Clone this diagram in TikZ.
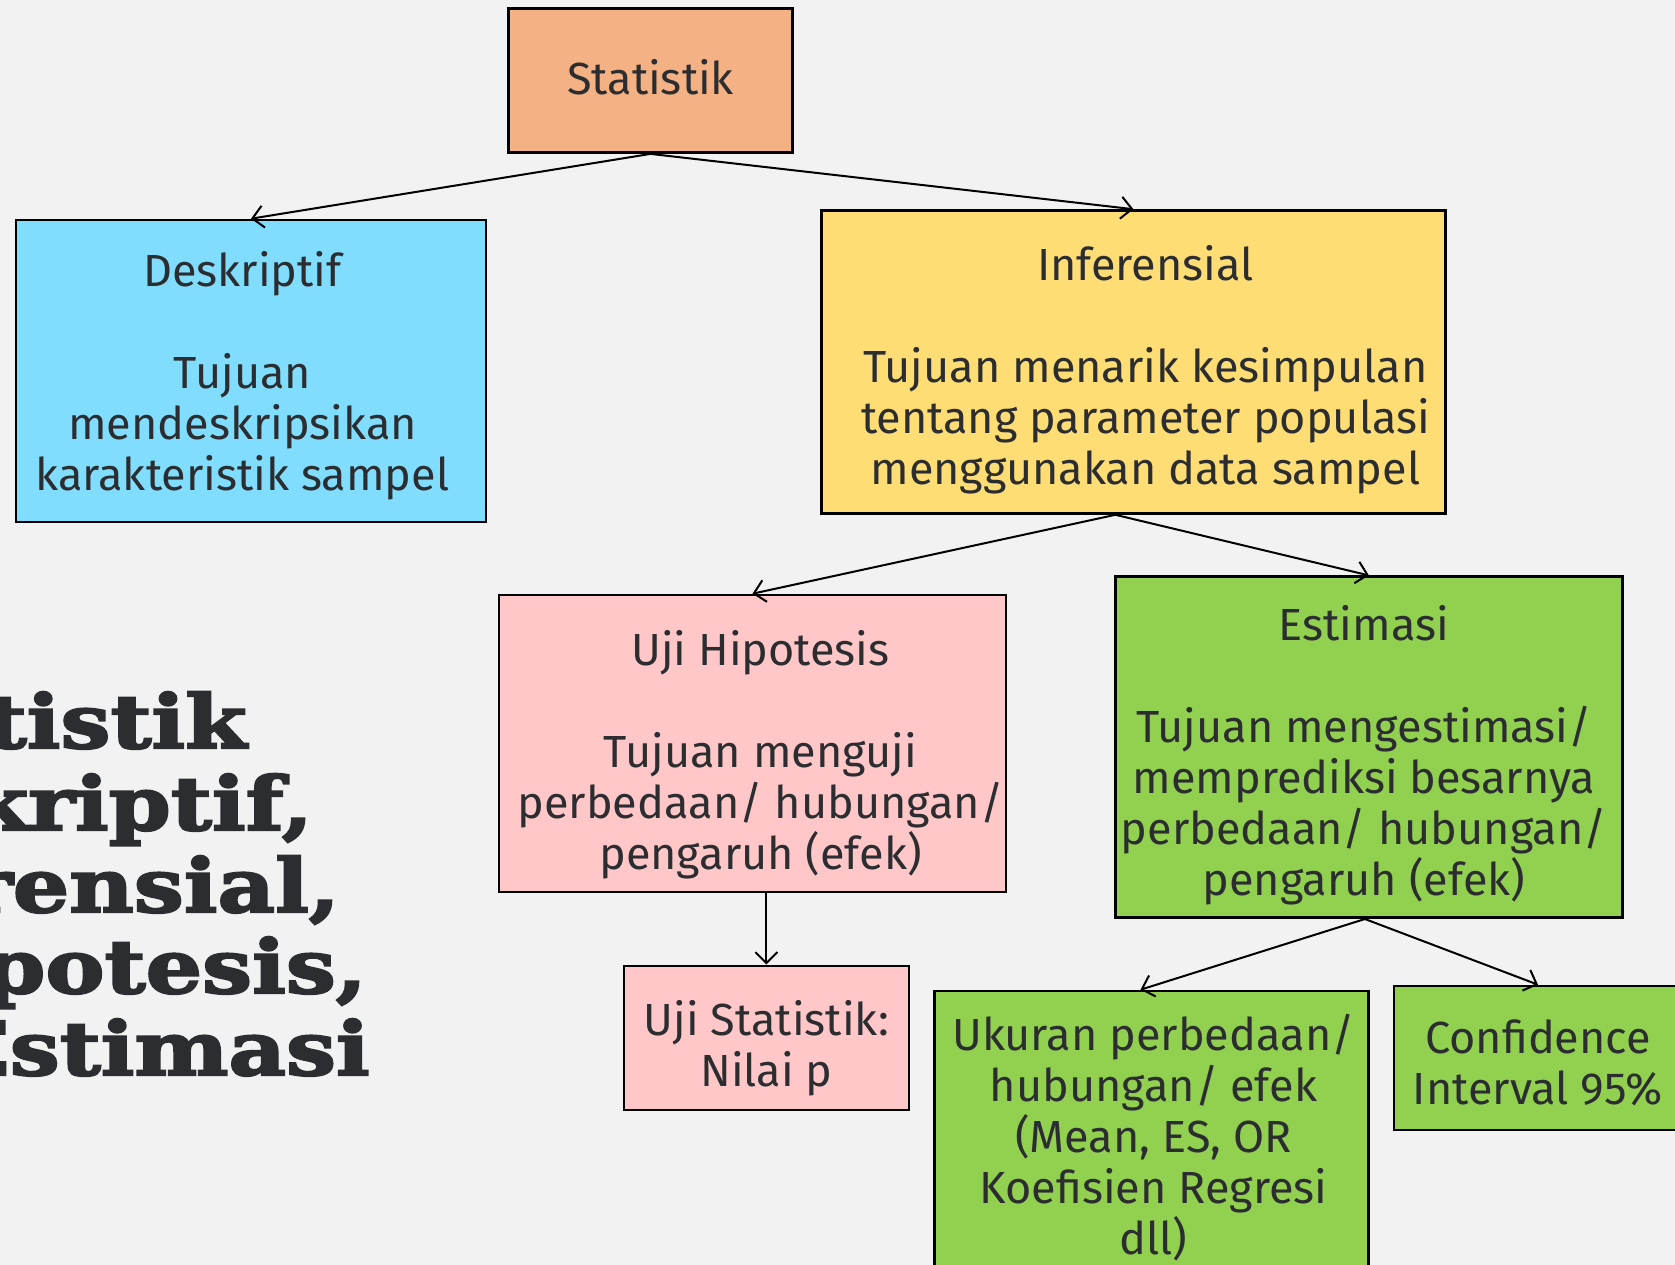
\documentclass[tikz,border=0pt]{standalone}
\usepackage{fontspec}
\usetikzlibrary{arrows.meta}
\setmainfont{Fira Sans}
\newfontfamily\handfont{Fira Sans}
\newfontfamily\slabfont[FakeBold=3,FakeStretch=1.2]{DejaVu Serif Bold}

\definecolor{bgcol}{HTML}{F2F2F2}
\definecolor{inkcol}{HTML}{2B2D30}
\definecolor{orangefill}{HTML}{F4B183}
\definecolor{bluefill}{HTML}{81DDFD}
\definecolor{yellowfill}{HTML}{FFDD75}
\definecolor{pinkfill}{HTML}{FFC7C7}
\definecolor{greenfill}{HTML}{92D050}

\tikzset{
  box/.style={draw=black, line width=2.6pt, inner sep=0pt, rectangle},
  boxtext/.style={text=inkcol, align=center, inner sep=0pt,
    font=\handfont\fontsize{45}{51}\selectfont},
  link/.style={draw=black, line width=2pt,
    -{Straight Barb[length=11pt,width=22pt,line width=2pt]}},
  bigline/.style={anchor=base east, inner sep=0pt, text=inkcol,
    font=\slabfont\fontsize{74}{82}\selectfont}
}

\begin{document}
\begin{tikzpicture}[x=1pt,y=-1pt]
  \useasboundingbox (0,0) rectangle (1675,1265);
  \fill[bgcol] (0,0) rectangle (1675,1265);

  % title lines on the left, running off the page edge
  \node[bigline] (t1) at (247,748)  {Statistik};
  \node[bigline] (t2) at (313,830)  {Deskriptif,};
  \node[bigline] (t3) at (340,912)  {Inferensial,};
  \node[bigline] (t4) at (367,993)  {Uji Hipotesis,};
  \node[bigline] (t5) at (370,1075) {Estimasi};

  % boxes
  \node[box, fill=orangefill, minimum width=284pt, minimum height=144pt]
    (stat) at (650.5,80.6) {};
  \node[box, fill=bluefill, minimum width=470pt, minimum height=302pt]
    (desk) at (251,371) {};
  \node[box, fill=yellowfill, minimum width=624pt, minimum height=303pt]
    (inf) at (1133.4,362) {};
  \node[box, fill=pinkfill, minimum width=507pt, minimum height=297pt]
    (uji) at (752.5,743.5) {};
  \node[box, fill=greenfill, minimum width=507pt, minimum height=341pt]
    (est) at (1368.9,747.2) {};
  \node[box, fill=pinkfill, minimum width=285pt, minimum height=144pt]
    (ujs) at (766.4,1037.8) {};
  \node[box, fill=greenfill, minimum width=434pt, minimum height=294pt]
    (uk) at (1151.5,1138) {};
  \node[box, fill=greenfill, minimum width=288pt, minimum height=144pt]
    (ci) at (1538,1058) {};

  % box texts
  \node[boxtext] (statT) at ([yshift=3pt]stat.center) {Statistik};
  \node[boxtext] (deskT) at ([xshift=-8.5pt,yshift=-4.5pt]desk.center)
    {Deskriptif\\[51pt]Tujuan\\mendeskripsikan\\karakteristik sampel};
  \node[boxtext] (infT) at ([xshift=12pt,yshift=-7.5pt]inf.center)
    {Inferensial\\[51pt]Tujuan menarik kesimpulan\\tentang parameter populasi\\menggunakan data sampel};
  \node[boxtext] (ujiT) at ([xshift=8pt,yshift=-11pt]uji.center)
    {Uji Hipotesis\\[51pt]Tujuan menguji\\perbedaan/ hubungan/\\pengaruh (efek)};
  \node[boxtext] (estT) at ([xshift=-5pt,yshift=-8pt]est.center)
    {Estimasi\\[51pt]Tujuan mengestimasi/\\memprediksi besarnya\\perbedaan/ hubungan/\\pengaruh (efek)};
  \node[boxtext] (ujsT) at ([yshift=-10pt]ujs.center) {Uji Statistik:\\Nilai p};
  \node[boxtext] (ukT) at ([xshift=2pt]uk.center)
    {Ukuran perbedaan/\\hubungan/ efek\\(Mean, ES, OR\\Koefisien Regresi\\dll)};
  \node[boxtext] (ciT) at ([yshift=-5pt]ci.center) {Confidence\\Interval 95\%};

  % connectors
  \draw[link] (stat.south) -- (desk.north);
  \draw[link] (stat.south) -- (inf.north);
  \draw[link] ([xshift=-18pt]inf.south) -- (uji.north);
  \draw[link] ([xshift=-18pt]inf.south) -- (est.north);
  \draw[link] (ujs.north |- uji.south) -- (ujs.north);
  \draw[link] ([xshift=-4pt]est.south) -- ([xshift=-11pt]uk.north);
  \draw[link] ([xshift=-4pt]est.south) -- (ci.north);
\end{tikzpicture}
\end{document}
